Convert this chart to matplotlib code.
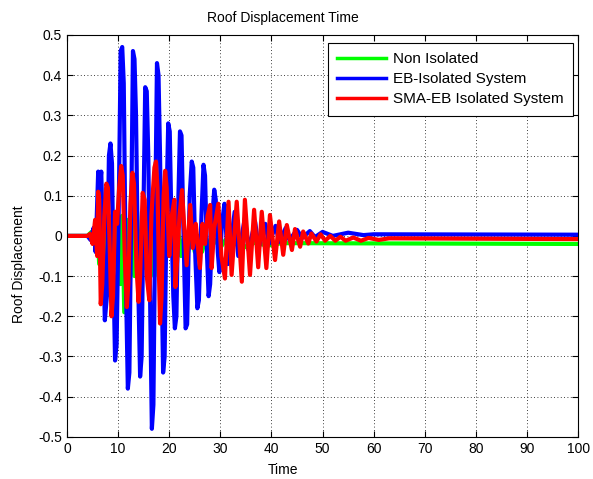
import matplotlib
matplotlib.use("Agg")
import matplotlib.pyplot as plt

plt.rcParams['font.family'] = ['Liberation Sans', 'DejaVu Sans']

title = "Roof Displacement Time"
x_label = "Time"
y_label = "Roof Displacement"
series_names = ["Non Isolated", "EB-Isolated System", "SMA-EB Isolated System"]
x_ticks = [0, 10, 20, 30, 40, 50, 60, 70, 80, 90, 100]
y_ticks = [-0.5, -0.4, -0.3, -0.2, -0.1, 0, 0.1, 0.2, 0.3, 0.4, 0.5]

# Peak points (time, displacement)
green_t = [0, 4, 4.8, 5.3, 5.8, 6.3, 6.8, 7.3, 7.8, 8.3, 8.8, 9.3, 9.8, 10.4, 10.8, 11.2,
           11.7, 12.2, 12.7, 13.2, 13.7, 14.2, 14.8, 15.3, 15.9, 16.4, 17.0, 17.4, 17.9,
           18.4, 18.9, 19.5, 20.0, 20.6, 21.1, 21.7, 22.3, 23.0, 23.6, 24.3, 25.0, 25.7,
           26.4, 27.2, 28.0, 29.0, 30.0, 31.0, 32.0, 33.5, 35.0, 37.0, 39.0, 42.0, 100]
green_v = [0, 0, 0.01, -0.02, 0.04, -0.07, 0.03, -0.1, 0.06, -0.147, 0.05, -0.08, 0.03,
           -0.12, 0.05, -0.19, 0.04, -0.16, 0.04, -0.1, 0.06, -0.1, 0.05, -0.08, 0.06,
           -0.1, 0.06, 0.08, -0.1, 0.05, -0.07, 0.04, -0.05, 0.03, -0.05, 0.02, -0.05,
           0.01, -0.045, 0.0, -0.04, 0.0, -0.04, -0.005, -0.035, -0.01, -0.03, -0.01,
           -0.03, -0.012, -0.028, -0.015, -0.025, -0.018, -0.02]

blue_t = [0, 4.0, 4.6, 5.2, 5.6, 6.1, 6.4, 6.7, 7.1, 7.4, 7.8, 8.2, 8.5, 8.8, 9.1, 9.4,
          9.7, 10.1, 10.5, 10.8, 11.1, 11.5, 11.9, 12.2, 12.6, 12.9, 13.2, 13.5, 13.9,
          14.3, 14.6, 15.0, 15.3, 15.6, 15.9, 16.3, 16.6, 16.9, 17.3, 17.6, 17.9, 18.2,
          18.5, 18.8, 19.1, 19.5, 19.8, 20.1, 20.4, 20.8, 21.1, 21.4, 21.8, 22.1, 22.4,
          22.8, 23.2, 23.5, 24.0, 24.4, 24.7, 25.1, 25.5, 25.8, 26.3, 26.7, 27.0, 27.4,
          27.7, 28.0, 28.5, 28.8, 29.1, 29.5, 29.8, 30.3, 30.8, 31.5, 32.8, 33.5, 34.8,
          35.5, 36.8, 37.5, 38.8, 39.5, 40.8, 41.5, 42.8, 43.5, 45.0, 46.0, 47.5, 48.5,
          50.0, 52.0, 55.0, 58.0, 60.0, 100]
blue_v = [0, 0, -0.01, 0.02, -0.04, 0.16, 0.12, 0.16, -0.05, -0.21, -0.15, 0.2, 0.23,
          0.18, -0.1, -0.31, -0.27, 0.05, 0.46, 0.47, 0.38, -0.1, -0.38, -0.34, 0.1,
          0.46, 0.44, 0.3, -0.1, -0.35, -0.3, 0.1, 0.37, 0.36, 0.2, -0.2, -0.48, -0.42,
          0.1, 0.43, 0.4, 0.2, -0.1, -0.34, -0.3, 0.1, 0.28, 0.26, 0.05, -0.15, -0.23,
          -0.2, 0.1, 0.26, 0.25, 0.0, -0.23, -0.22, 0.1, 0.185, 0.17, -0.05, -0.18,
          -0.16, 0.05, 0.177, 0.15, -0.05, -0.15, -0.12, 0.06, 0.115, 0.09, -0.04,
          -0.09, 0.03, 0.08, -0.07, 0.06, -0.05, 0.045, -0.035, 0.035, -0.03, 0.03,
          -0.02, 0.025, -0.015, 0.02, -0.01, 0.015, -0.005, 0.012, -0.003, 0.01, 0.0,
          0.008, 0.002, 0.004, 0.003]

red_t = [0, 4, 4.5, 5.0, 5.5, 5.9, 6.1, 6.3, 6.6, 6.9, 7.3, 7.7, 8.0, 8.4, 8.7, 9.0,
         9.4, 9.8, 10.2, 10.6, 10.9, 11.3, 11.7, 12.0, 12.4, 12.8, 13.1, 13.6, 14.0,
         14.3, 14.8, 15.2, 15.6, 16.1, 16.5, 17.1, 17.4, 17.7, 18.0, 18.2, 18.5, 18.9,
         19.2, 19.5, 20.0, 20.5, 21.0, 21.2, 21.6, 22.0, 22.5, 22.8, 23.4, 24.1, 24.6,
         25.2, 26.0, 26.5, 27.0, 27.5, 28.0, 28.3, 28.8, 29.6, 30.2, 30.9, 31.6, 32.2,
         33.2, 34.2, 34.8, 35.8, 36.6, 37.4, 38.1, 39.0, 39.7, 40.7, 41.5, 42.3, 43.0,
         44.0, 44.6, 45.6, 46.2, 47.2, 47.8, 48.8, 49.6, 50.5, 51.5, 52.5, 53.5, 54.5,
         56.0, 57.5, 59.0, 61.0, 63.0, 100]
red_v = [0, 0, 0.005, -0.02, 0.04, -0.05, 0.11, 0.09, -0.17, -0.12, 0.05, 0.13, 0.12,
         -0.05, -0.2, -0.15, 0.06, 0.03, 0.12, 0.174, 0.15, -0.05, -0.177, -0.12, 0.08,
         0.157, 0.13, -0.08, -0.164, -0.1, 0.107, 0.09, -0.1, -0.16, 0.05, 0.17, 0.185,
         0.12, -0.1, -0.218, -0.15, 0.1, 0.162, 0.12, -0.05, 0.05, 0.09, -0.127, -0.05,
         0.05, 0.114, 0.05, -0.073, 0.077, -0.03, 0.03, -0.08, 0.03, -0.02, 0.05, 0.077,
         -0.08, 0.02, 0.08, -0.05, -0.106, 0.085, -0.097, 0.085, -0.114, 0.09, -0.097,
         0.065, -0.078, 0.06, -0.08, 0.052, -0.06, 0.036, -0.047, 0.027, -0.035, 0.017,
         -0.027, 0.011, -0.019, 0.006, -0.014, 0.004, -0.012, 0.0, -0.012, -0.002,
         -0.012, -0.004, -0.012, -0.005, -0.01, -0.006, -0.008]

fig = plt.figure(figsize=(5.93, 4.79), dpi=100)
ax = fig.add_axes([0.113, 0.088, 0.862, 0.839])

lw = 3.0
ax.plot(green_t, green_v, color='#00ff00', lw=lw, label=series_names[0])
ax.plot(blue_t, blue_v, color='#0000ff', lw=lw, label=series_names[1])
ax.plot(red_t, red_v, color='#ff0000', lw=lw, label=series_names[2])

ax.set_xlim(0, 100)
ax.set_ylim(-0.5, 0.5)
ax.set_xticks(x_ticks)
ax.set_yticks(y_ticks)
ax.set_xticklabels([str(v) for v in x_ticks])
ax.set_yticklabels(["-0.5", "-0.4", "-0.3", "-0.2", "-0.1", "0", "0.1", "0.2", "0.3", "0.4", "0.5"])
ax.tick_params(direction='in', top=True, right=True, length=4, width=0.8, labelsize=10)
ax.grid(True, linestyle=(0, (1, 3)), color='black', linewidth=0.6)
for s in ax.spines.values():
    s.set_linewidth(0.8)

ax.set_title(title, fontsize=10, pad=9, x=0.423)
ax.set_xlabel(x_label, fontsize=10, labelpad=5, x=0.423)
ax.set_ylabel(y_label, fontsize=10, labelpad=9, y=0.43)

leg = ax.legend(loc='upper right', bbox_to_anchor=(0.990, 0.980), fontsize=11,
                fancybox=False, framealpha=1, edgecolor='black', borderaxespad=0,
                handlelength=3.2, handletextpad=0.5, labelspacing=0.4, borderpad=0.6)
for line in leg.get_lines():
    line.set_linewidth(2.5)
leg.get_frame().set_linewidth(0.8)

fig.savefig("out.png", dpi=100)
